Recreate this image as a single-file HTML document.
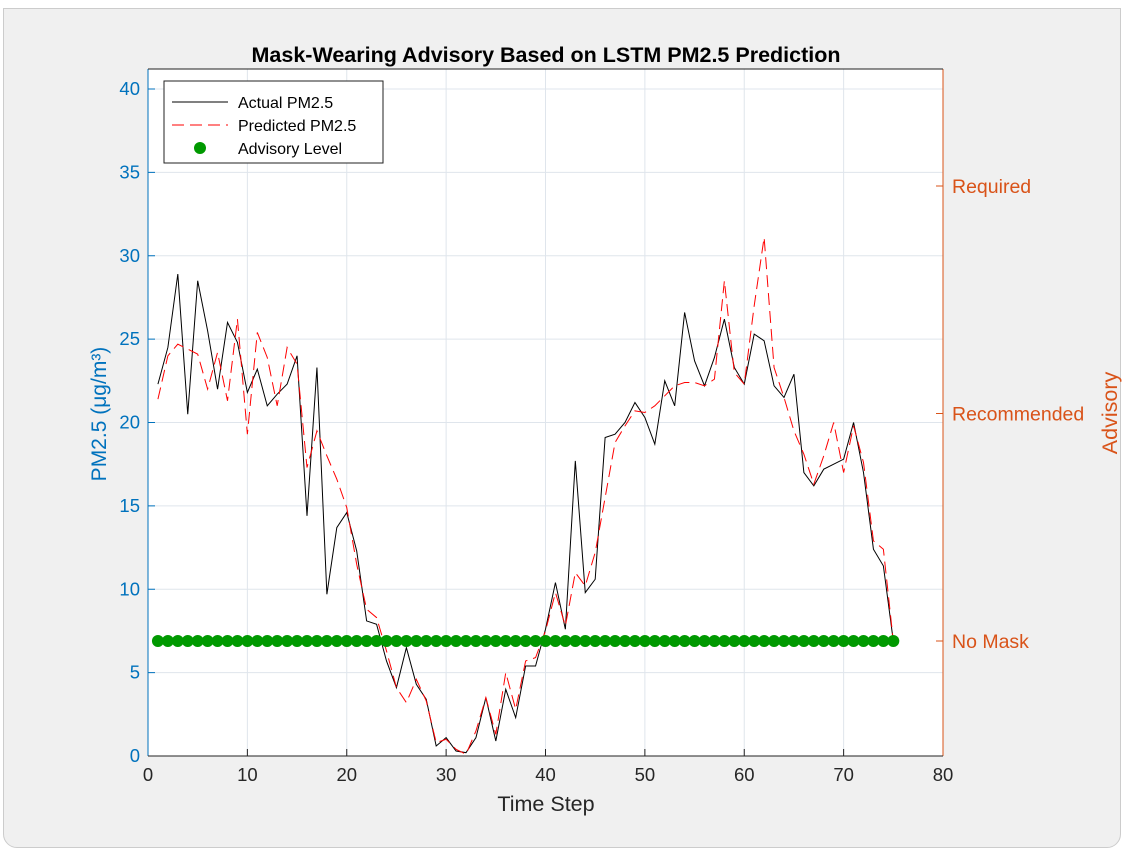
<!DOCTYPE html>
<html><head><meta charset="utf-8"><style>
body{margin:0;width:1126px;height:852px;overflow:hidden;background:#fff;font-family:"Liberation Sans",sans-serif}
#win{position:absolute;left:3px;top:8px;width:1116px;height:838px;background:#f0f0f0;border-radius:0 0 14px 14px;border:1px solid #ccc}
</style></head><body>
<div id="win"></div>
<svg width="1126" height="852" style="position:absolute;left:0;top:0" font-family="Liberation Sans, sans-serif">
<g id="g"></g>
</svg>
<script>
const steps=[];for(let i=1;i<=75;i++)steps.push(i);
const actual=[22.3,24.5,28.9,20.5,28.5,25.5,22,26,24.8,21.8,23.2,21,21.7,22.3,24,14.4,23.3,9.7,13.7,14.6,12.3,8.1,7.9,5.7,4.1,6.5,4.3,3.4,0.6,1.1,0.3,0.2,1.1,3.5,0.9,4.0,2.3,5.4,5.4,7.6,10.4,7.6,17.7,9.8,10.6,19.1,19.3,20,21.2,20.3,18.7,22.5,21,26.6,23.7,22.2,23.9,26.2,23.3,22.3,25.3,24.9,22.2,21.5,22.9,17,16.2,17.2,17.5,17.8,20,17,12.4,11.4,6.9];
const predicted=[21.4,24,24.7,24.4,24.1,22,24.2,21.3,26.2,19.3,25.4,23.9,21,24.5,23.5,17.3,19.5,18,16.6,14.9,11.5,8.8,8.3,6.3,4.1,3.2,4.6,3.3,0.8,1.0,0.4,0.1,1.5,3.5,1.3,5.0,2.8,5.7,5.9,7.5,9.8,7.8,11,10.2,12.2,15.5,18.8,19.8,20.7,20.6,21,21.6,22.2,22.4,22.4,22.2,22.6,28.5,23,22.3,27,31.1,23.3,21.5,19.5,18.1,16.3,18,20,17,19.8,17.6,12.9,12.4,6.9];
const advisory=steps.map(()=>0);
const xTicks=[0,10,20,30,40,50,60,70,80];
const yTicks=[0,5,10,15,20,25,30,35,40];
const advLabels=["No Mask","Recommended","Required"];
const L=148,R=943,T=69,B=756;
const X=v=>L+(v-0)/80*(R-L);
const Y=v=>B-(v/40)*(B-89);
const YR=v=>641-v*227.5;
const g=document.getElementById('g');const NS='http://www.w3.org/2000/svg';
function el(t,a,txt){const e=document.createElementNS(NS,t);for(const k in a)e.setAttribute(k,a[k]);if(txt!=null)e.textContent=txt;g.appendChild(e);return e;}
let e=el('rect',{x:L,y:T,width:R-L,height:B-T,fill:'#fff'});

xTicks.forEach(v=>{let l=el('line',{x1:X(v),x2:X(v),y1:T,y2:B,stroke:'#dfe5ec','stroke-width':1});

el('line',{x1:X(v),x2:X(v),y1:B,y2:B-7,stroke:'#222'});
let t=el('text',{x:X(v),y:B+25,'text-anchor':'middle','font-size':18.5,fill:'#262626'},v);
});
yTicks.forEach(v=>{let l=el('line',{x1:L,x2:R,y1:Y(v),y2:Y(v),stroke:'#dfe5ec'});

el('line',{x1:L,x2:L+7,y1:Y(v),y2:Y(v),stroke:'#0072bd'});
let t=el('text',{x:L-8,y:Y(v)+6,'text-anchor':'end','font-size':18.5,fill:'#0072bd'},v);
});
advLabels.forEach((s,i)=>{el('line',{x1:R,x2:R-7,y1:YR(i),y2:YR(i),stroke:'#d95319'});
let t=el('text',{x:R+9,y:YR(i)+7,'font-size':19.5,fill:'#d95319'},s);
});
el('line',{x1:L,x2:L,y1:T,y2:B,stroke:'#0072bd'});
el('line',{x1:R,x2:R,y1:T,y2:B,stroke:'#d95319'});
el('line',{x1:L,x2:R,y1:B,y2:B,stroke:'#222'});
el('line',{x1:L,x2:R,y1:T,y2:T,stroke:'#222'});
const pa=steps.map((s,i)=>X(s)+','+Y(actual[i])).join(' ');
e=el('polyline',{points:pa,fill:'none',stroke:'#000','stroke-width':1});

const pp=steps.map((s,i)=>X(s)+','+Y(predicted[i])).join(' ');
e=el('polyline',{points:pp,fill:'none',stroke:'#ff0000','stroke-width':1,'stroke-dasharray':'12,6'});

steps.forEach((s,i)=>{let c=el('circle',{cx:X(s),cy:YR(advisory[i]),r:6,fill:'#009900'});
});
e=el('text',{x:546,y:62,'text-anchor':'middle','font-size':21.5,'font-weight':'bold',fill:'#000'},'Mask-Wearing Advisory Based on LSTM PM2.5 Prediction');

e=el('text',{x:546,y:811,'text-anchor':'middle','font-size':21.5,fill:'#262626'},'Time Step');

e=el('text',{x:0,y:0,'text-anchor':'middle','font-size':21,fill:'#0072bd',transform:'translate(106,414) rotate(-90)'},'PM2.5 (μg/m³)');

e=el('text',{x:0,y:0,'text-anchor':'middle','font-size':21.5,fill:'#d95319',transform:'translate(1117,413) rotate(-90)'},'Advisory');

e=el('rect',{x:164,y:81,width:219,height:82,fill:'#fff',stroke:'#222'});

el('line',{x1:172,x2:228,y1:102,y2:102,stroke:'#000'});
el('line',{x1:172,x2:228,y1:125,y2:125,stroke:'#f00','stroke-dasharray':'12,6'});
el('circle',{cx:200,cy:148,r:6,fill:'#009900'});
[['Actual PM2.5',108],['Predicted PM2.5',131],['Advisory Level',154]].forEach(a=>{let t=el('text',{x:238,y:a[1],'font-size':16,fill:'#000'},a[0]);
});
</script>
</body></html>
